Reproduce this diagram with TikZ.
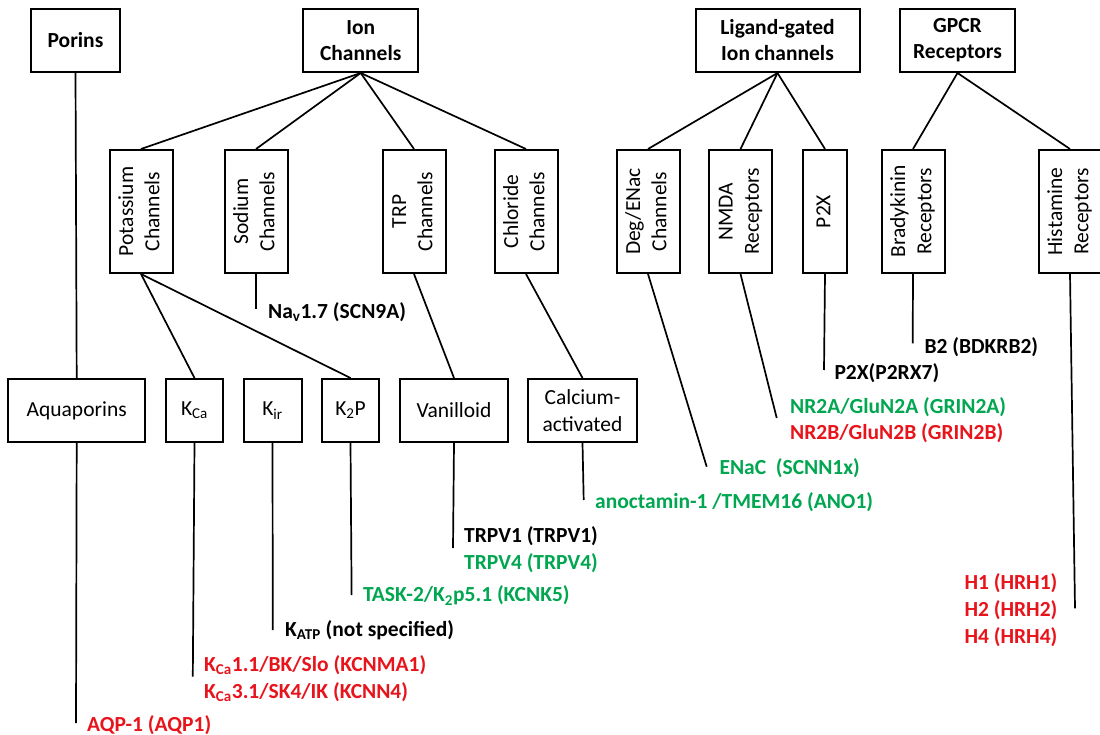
\documentclass[tikz,border=0pt]{standalone}
\usepackage{fontspec}
\setmainfont{Carlito}
\usepackage{graphicx}
\definecolor{lgreen}{RGB}{0,166,80}
\definecolor{lred}{RGB}{232,20,27}
\newcommand{\rt}[1]{\rotatebox{90}{\begin{tabular}{@{}c@{}}#1\end{tabular}}}
\tikzset{
 box/.style={draw, line width=2pt, inner sep=0pt, align=center, font=\fontsize{21.5}{26.3}\selectfont},
 topbox/.style={box, minimum height=63pt, font=\fontsize{21.5}{26}\selectfont\bfseries},
 vbox/.style={box, minimum width=63pt, minimum height=123pt},
 hbox/.style={box, minimum height=63pt},
 conn/.style={line width=1.7pt},
 lab/.style={anchor=west, inner sep=0pt, align=left, font=\fontsize{21.5}{26.7}\selectfont\bfseries},
}
\begin{document}
\begin{tikzpicture}[x=1pt,y=-1pt]
\useasboundingbox (0,0) rectangle (1100,735);
% top level
\node[topbox, minimum width=89pt] (porins) at (75.5,40.5) {Porins};
\node[topbox, minimum width=115pt] (ion) at (360.7,40.5) {Ion\\Channels};
\node[topbox, minimum width=164pt] (lig) at (777.5,40.5) {Ligand-gated\\Ion channels};
\node[topbox, minimum width=115pt] (gpcr) at (957.5,40.5) {GPCR\\Receptors};
% vertical boxes
\node[vbox] (potassium) at (141,211.5) {\rt{Potassium\\Channels}};
\node[vbox] (sodium) at (256,211.5) {\rt{Sodium\\Channels}};
\node[vbox] (trp) at (414,211.5) {\rt{TRP\\Channels}};
\node[vbox] (chloride) at (526,211.5) {\rt{Chloride\\Channels}};
\node[vbox] (degenac) at (648,211.5) {\rt{Deg/ENac\\Channels}};
\node[vbox] (nmda) at (740.5,211.5) {\rt{NMDA\\Receptors}};
\node[vbox, minimum width=44pt] (p2x) at (825,211.5) {\rt{P2X}};
\node[vbox] (brady) at (913,211.5) {\rt{Bradykinin\\Receptors}};
\node[vbox, minimum width=62pt] (hist) at (1070,211.5) {\rt{Histamine\\Receptors}};
% horizontal boxes
\node[hbox, minimum width=136.5pt] (aqua) at (76.7,410.5) {Aquaporins};
\node[hbox, minimum width=57pt] (kca) at (194.5,410.5) {K\textsubscript{Ca}};
\node[hbox, minimum width=58pt] (kir) at (272.5,410.5) {K\textsubscript{ir}};
\node[hbox, minimum width=57pt] (k2p) at (350.5,410.5) {K\textsubscript{2}P};
\node[hbox, minimum width=108pt] (van) at (454,410.5) {Vanilloid};
\node[hbox, minimum width=109pt] (calc) at (582.5,410.5) {Calcium-\\activated};
% tree connectors
\draw[conn] (porins.south) -- (aqua.north);
\draw[conn] (ion.south) -- (potassium.north);
\draw[conn] (ion.south) -- (sodium.north);
\draw[conn] (ion.south) -- (trp.north);
\draw[conn] (ion.south) -- (chloride.north);
\draw[conn] (lig.south) -- (degenac.north);
\draw[conn] (lig.south) -- (nmda.north);
\draw[conn] (lig.south) -- (p2x.north);
\draw[conn] (gpcr.south) -- (brady.north);
\draw[conn] (gpcr.south) -- (hist.north);
\draw[conn] (potassium.south) -- (kca.north);
\draw[conn] (potassium.south) -- (k2p.north);
\draw[conn] (trp.south) -- (van.north);
\draw[conn] (chloride.south) -- (calc.north);
% leaf end points
\coordinate (eNa) at (256,309);
\coordinate (eAqp) at (76,723);
\coordinate (eKca) at (192.8,676.7);
\coordinate (eKir) at (272.8,630);
\coordinate (eK2p) at (351.6,595);
\coordinate (eVan) at (453,548);
\coordinate (eCalc) at (583.7,500);
\coordinate (eDeg) at (706.7,466.7);
\coordinate (eNmda) at (776.7,418);
\coordinate (eP2x) at (824,370);
\coordinate (eBrady) at (912.7,343.3);
\coordinate (eHist) at (1075,608.3);
\draw[conn] (sodium.south) -- (eNa);
\draw[conn] (aqua.south) -- (eAqp);
\draw[conn] (kca.south) -- (eKca);
\draw[conn] (kir.south) -- (eKir);
\draw[conn] (k2p.south) -- (eK2p);
\draw[conn] (van.south) -- (eVan);
\draw[conn] (calc.south) -- (eCalc);
\draw[conn] (degenac.south) -- (eDeg);
\draw[conn] (nmda.south) -- (eNmda);
\draw[conn] (p2x.south) -- (eP2x);
\draw[conn] (brady.south) -- (eBrady);
\draw[conn] (hist.south) -- (eHist);
% labels
\node[lab] (lNa) at (268,311.7) {Na\textsubscript{v}1.7 (SCN9A)};
\node[lab, text=lred] (lAqp) at (87,725) {AQP-1 (AQP1)};
\node[lab, text=lred] (lKca) at (204,678.3) {K\textsubscript{Ca}1.1/BK/Slo (KCNMA1)\\K\textsubscript{Ca}3.1/SK4/IK (KCNN4)};
\node[lab] (lKir) at (285,630) {K\textsubscript{ATP} (not specified)};
\node[lab, text=lgreen] (lK2p) at (362.8,595.7) {TASK-2/K\textsubscript{2}p5.1 (KCNK5)};
\node[lab] (lVan) at (464,549.3) {TRPV1 (TRPV1)\\\textcolor{lgreen}{TRPV4 (TRPV4)}};
\node[lab, text=lgreen] (lCalc) at (595,501.7) {anoctamin-1 /TMEM16 (ANO1)};
\node[lab, text=lgreen] (lDeg) at (719.3,468) {ENaC\ \ (SCNN1x)};
\node[lab] (lNmda) at (790,420) {\textcolor{lgreen}{NR2A/GluN2A (GRIN2A)}\\\textcolor{lred}{NR2B/GluN2B (GRIN2B)}};
\node[lab] (lP2x) at (834.3,373.3) {P2X(P2RX7)};
\node[lab] (lBrady) at (924.3,346.7) {B2 (BDKRB2)};
\node[lab, text=lred] (lHist) at (964.3,610) {H1 (HRH1)\\H2 (HRH2)\\H4 (HRH4)};
\end{tikzpicture}
\end{document}
